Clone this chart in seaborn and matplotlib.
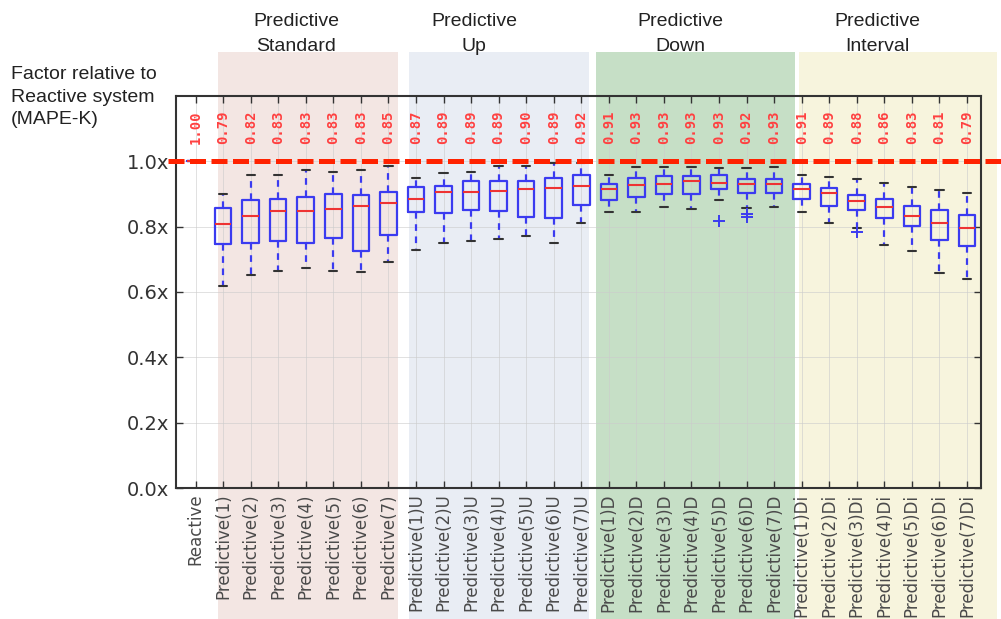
import numpy as np
import pandas as pd
import seaborn as sns
import matplotlib.pyplot as plt
from matplotlib.patches import Rectangle

# configurations, in plot order
suffixes = ["", "U", "D", "Di"]
configs = ["Reactive"] + [f"Predictive({i}){s}" for s in suffixes for i in range(1, 8)]

# five-number summaries (factor relative to reactive)
whisk_lo = [1.00, 0.617, 0.651, 0.664, 0.672, 0.665, 0.660, 0.692,
            0.730, 0.750, 0.757, 0.763, 0.770, 0.751, 0.812,
            0.844, 0.844, 0.860, 0.855, 0.881, 0.856, 0.860,
            0.844, 0.811, 0.797, 0.745, 0.726, 0.658, 0.640]
q1 = [1.00, 0.747, 0.749, 0.757, 0.749, 0.765, 0.724, 0.775,
      0.844, 0.843, 0.851, 0.848, 0.831, 0.827, 0.865,
      0.882, 0.890, 0.901, 0.901, 0.916, 0.902, 0.902,
      0.884, 0.864, 0.850, 0.828, 0.803, 0.758, 0.740]
median = [1.00, 0.808, 0.833, 0.849, 0.849, 0.855, 0.864, 0.871,
          0.886, 0.907, 0.907, 0.910, 0.914, 0.919, 0.926,
          0.916, 0.927, 0.930, 0.941, 0.935, 0.930, 0.930,
          0.914, 0.902, 0.879, 0.860, 0.832, 0.812, 0.797]
q3 = [1.00, 0.858, 0.882, 0.884, 0.890, 0.901, 0.897, 0.907,
      0.921, 0.925, 0.940, 0.940, 0.940, 0.948, 0.958,
      0.932, 0.949, 0.954, 0.954, 0.958, 0.946, 0.946,
      0.932, 0.918, 0.897, 0.884, 0.864, 0.850, 0.837]
whisk_hi = [1.00, 0.900, 0.958, 0.958, 0.975, 0.967, 0.975, 0.987,
            0.948, 0.963, 0.968, 0.985, 0.987, 0.995, 0.995,
            0.958, 0.983, 0.983, 0.983, 0.980, 0.980, 0.983,
            0.958, 0.951, 0.947, 0.934, 0.922, 0.913, 0.903]

# outliers
flier_config = ["Predictive(5)D", "Predictive(6)D", "Predictive(6)D", "Predictive(3)Di"]
flier_value = [0.818, 0.839, 0.831, 0.785]

# numbers printed on top of each box
mean_labels = [1.00, 0.79, 0.82, 0.83, 0.83, 0.83, 0.83, 0.85,
               0.87, 0.89, 0.89, 0.89, 0.90, 0.89, 0.92,
               0.91, 0.93, 0.93, 0.93, 0.93, 0.92, 0.93,
               0.91, 0.89, 0.88, 0.86, 0.83, 0.81, 0.79]

group_titles = ["Predictive\nStandard", "Predictive\nUp", "Predictive\nDown", "Predictive\nInterval"]
group_colors = ["#f3e6e3", "#e9edf4", "#c6dfc6", "#f7f4dd"]
# band spans and title centres in pixels (layout only)
group_bands = [(218, 398), (409, 589), (596, 795), (799, 997)]
group_title_x = [296, 474, 680, 877]

W, H = 1001, 619
BLUE = "#3b3bf0"
RED = "#ee3333"

rows = []
for c, a, b, m, d, e in zip(configs, whisk_lo, q1, median, q3, whisk_hi):
    for v in (a, b, m, d, e):
        rows.append({"config": c, "factor": v})
df = pd.DataFrame(rows)

sns.set_style("ticks")
plt.rcParams['font.family'] = ['DejaVu Sans']

fig = plt.figure(figsize=(W / 100, H / 100), dpi=100)
fig.patch.set_facecolor("white")
ax = fig.add_axes([176 / W, 1 - 488 / H, (981 - 176) / W, (488 - 96) / H])
ax.set_facecolor("none")

# coloured group bands behind the axes
for (x0, x1), col in zip(group_bands, group_colors):
    fig.add_artist(Rectangle((x0 / W, 0), (x1 - x0) / W, 1 - 52 / H,
                             transform=fig.transFigure, facecolor=col,
                             edgecolor="none", zorder=-1))

sns.boxplot(data=df, x="config", y="factor", order=configs, whis=(0, 100),
            width=0.6, fill=False, color=BLUE, linewidth=1.6,
            medianprops=dict(color=RED, linewidth=1.5),
            whiskerprops=dict(color=BLUE, linestyle=(0, (3, 2.5)), linewidth=1.6),
            capprops=dict(color="#333333", linewidth=1.5),
            ax=ax)
sns.stripplot(x=flier_config, y=flier_value, order=configs, jitter=False,
              marker="+", color=BLUE, size=8, linewidth=1.4, ax=ax)

ax.axhline(1.0, xmin=-0.01, xmax=1.03, color="#ff2200", lw=3.6,
           dashes=(3.2, 1.1), clip_on=False, zorder=6)

for i, m in enumerate(mean_labels):
    ax.text(i, 1.105, f"{m:.2f}", rotation=90, ha="center", va="center",
            family="DejaVu Sans Mono", weight="bold", fontsize=10, color="#ff4040")

ax.set_xlim(-0.71, 28.51)
ax.set_ylim(0, 1.2)
yt = np.arange(0, 1.01, 0.2)
ax.set_yticks(yt)
ax.set_yticklabels([f"{t:.1f}x" for t in yt], fontsize=14, color="#333333")
ax.set_xticks(range(len(configs)))
ax.set_xticklabels(configs, rotation=90, fontsize=12, color="#4a4a4a")
ax.set_xlabel("")
ax.set_ylabel("")
ax.tick_params(direction="in", top=True, right=True, length=5, width=1,
               color="#333333")
ax.tick_params(axis="y", pad=5)
ax.tick_params(axis="x", pad=4)
ax.grid(True, color="#cccccc", linewidth=0.6, alpha=0.7)
ax.set_axisbelow(True)
for s in ax.spines.values():
    s.set_visible(True)
    s.set_color("#333333")
    s.set_linewidth(1.5)

for title, x in zip(group_titles, group_title_x):
    fig.text(x / W, 1 - 34 / H, title, ha="center", va="center",
             family="Liberation Sans", fontsize=14, color="#222222",
             linespacing=1.55)

fig.text(11 / W, 1 - 97 / H, "Factor relative to\nReactive system\n(MAPE-K)",
         ha="left", va="center", family="Liberation Sans", fontsize=14,
         color="#222222", linespacing=1.43)

fig.savefig("out.png", dpi=100)
